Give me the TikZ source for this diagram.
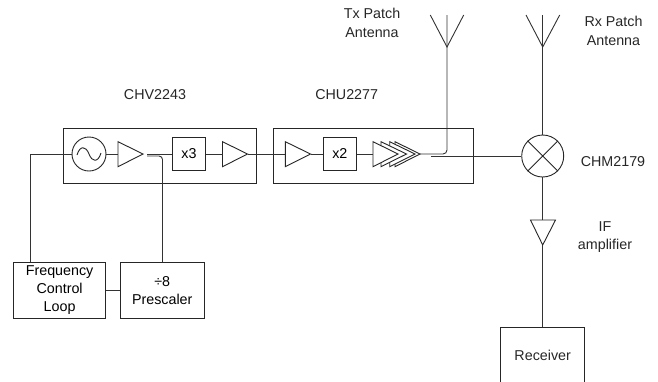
\documentclass[tikz,border=0pt]{standalone}
\usepackage{fontspec}
\setmainfont{Liberation Sans}
\begin{document}
\begin{tikzpicture}[x=1pt,y=-1pt,line width=0.9pt,
  wire/.style={draw=black!80},
  block/.style={draw=black!85,fill=white,inner sep=0pt,align=center,font=\fontsize{14.3}{18}\selectfont},
  lbl/.style={inner sep=0pt,align=center,font=\fontsize{14.3}{18.5}\selectfont,text=black!85},
  amp/.style={draw=black!85,fill=white}]
\useasboundingbox (0,0) rectangle (658,381);
% module frames
\node[block,minimum width=192.5pt,minimum height=54.5pt] (chv) at (159.7,156) {};
\node[block,minimum width=200.5pt,minimum height=54.5pt] (chu) at (373.2,156) {};
% oscillator
\node[block,circle,minimum size=34pt] (osc) at (89,154) {};
\draw[black!85] (77,155) .. controls (80,145) and (86,146) .. (89,154) .. controls (92,162) and (98,163) .. (101,153);
% coordinates
\coordinate (a1in) at (118,154); \coordinate (a1out) at (143,154);
\coordinate (a1tap) at (147,154); \coordinate (a1fb) at (147,156);
\coordinate (a2in) at (222.5,154); \coordinate (a2out) at (247.5,154);
\coordinate (a3in) at (285.3,154); \coordinate (a3out) at (310.5,154);
\coordinate (pain) at (373,154);
\coordinate (pa1) at (431,154); \coordinate (pa2) at (431,156);
\coordinate (txtop) at (447,15); \coordinate (txv) at (447,47);
\coordinate (rxtop) at (542.7,15); \coordinate (rxv) at (542.7,47);
\coordinate (ifin) at (542.7,220); \coordinate (ifout) at (542.7,245);
\coordinate (cl) at (30.5,154);
\coordinate (fbc) at (162.5,156);
% blocks
\node[block,minimum width=33pt,minimum height=33pt] (x3) at (189,154) {x3};
\node[block,minimum width=33pt,minimum height=33pt] (x2) at (339.8,154) {x2};
\node[block,circle,minimum size=42pt] (mix) at (542.7,156) {};
\draw[black!85] (mix.north west) -- (mix.south east) (mix.north east) -- (mix.south west);
\node[block,minimum width=91.8pt,minimum height=55.6pt] (fcl) at (59.6,290.5) {Frequency\\Control\\Loop};
\node[block,minimum width=83.5pt,minimum height=55.6pt] (pre) at (162.2,290.5) {÷8\\Prescaler};
\path[draw=black!85] (500.7,381.5) |- (584,327.3) -- (584,381.5);
\coordinate (rec) at (542.7,327.3);
\node[lbl] (rectxt) at (542.7,355) {Receiver};
% triangles
\draw[amp] (118,141.7) -- (143,154) -- (118,166.7) -- cycle;
\draw[amp] (222.5,141.7) -- (247.5,154) -- (222.5,166.7) -- cycle;
\draw[amp] (285.3,141.7) -- (310.5,154) -- (285.3,166.7) -- cycle;
\draw[amp] (395,141.7) -- (420,154) -- (395,166.7) -- cycle;
\draw[amp] (389.7,141.7) -- (415,154) -- (389.7,166.7) -- cycle;
\draw[amp] (381,141.7) -- (406.5,154) -- (381,166.7) -- cycle;
\draw[amp] (373,141.7) -- (398,154) -- (373,166.7) -- cycle;
\draw[amp] (530.5,220) -- (555.5,220) -- (ifout) -- cycle;
% wires
\draw[wire] (fcl.north -| cl) -- (cl) -- (osc.west);
\draw[wire] (osc.east) -- (a1in);
\draw[wire] (a1tap) -- (x3.west);
\draw[wire] (a1fb) -- (159,156) to[out=0,in=90] (162.5,159.5) -- (pre.north -| fbc);
\draw[wire] (x3.east) -- (a2in);
\draw[wire] (a2out) -- (a3in);
\draw[wire] (a3out) -- (x2.west);
\draw[wire] (x2.east) -- (pain);
\draw[wire] (420,154) -- (431,154) -- (443,154) to[out=0,in=-90] (447,150) -- (txtop);
\draw[wire] (pa2) -- (mix.west);
\draw[wire] (rxtop) -- (mix.north);
\draw[wire] (mix.south) -- (ifin);
\draw[wire] (ifout) -- (rec);
\draw[wire] (fcl.east) -- (pre.west);
% antennas
\draw[wire] (430.3,15) -- (txv) -- (463.7,15);
\draw[wire] (526,15) -- (rxv) -- (559.7,15);
% labels
\node[lbl] (l1) at (155,95) {CHV2243};
\node[lbl] (l2) at (346.7,95) {CHU2277};
\node[lbl] (l3) at (372,23) {Tx Patch\\Antenna};
\node[lbl] (l4) at (613.5,31) {Rx Patch\\Antenna};
\node[lbl] (l5) at (613,162) {CHM2179};
\node[lbl] (l6) at (605,237) {IF\\amplifier};
\end{tikzpicture}
\end{document}
